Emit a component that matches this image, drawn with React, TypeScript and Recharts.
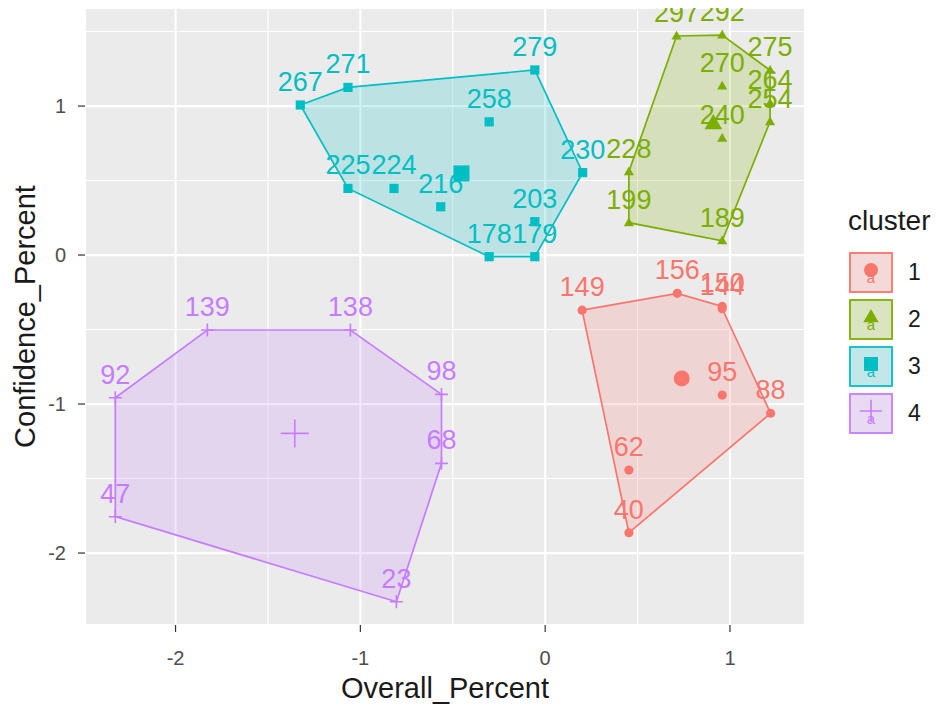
import React from 'react';
import { ScatterChart, Scatter, XAxis, YAxis, CartesianGrid } from 'recharts';

const FONT = '"Liberation Sans", Arial, sans-serif';

const clusterNames = ['1', '2', '3', '4'];
const clusterColors = ['#F8766D', '#7CAE00', '#00BFC4', '#C77CFF'];
const clusterShapes = ['circle', 'triangle', 'square', 'plus'];

// cluster 1
const ids1 = ['149', '156', '150', '144', '95', '88', '62', '40'];
const x1 = [0.2, 0.715, 0.958, 0.958, 0.958, 1.22, 0.453, 0.453];
const y1 = [-0.37, -0.257, -0.345, -0.36, -0.94, -1.062, -1.443, -1.864];
const hull1 = ['149', '156', '150', '144', '88', '40'];

// cluster 2
const ids2 = ['297', '292', '275', '264', '254', '270', '240', '228', '199', '189'];
const x2 = [0.711, 0.958, 1.217, 1.217, 1.217, 0.958, 0.958, 0.453, 0.453, 0.958];
const y2 = [1.47, 1.476, 1.24, 1.018, 0.895, 1.134, 0.783, 0.559, 0.217, 0.096];
const hull2 = ['297', '292', '275', '264', '254', '189', '199', '228'];

// cluster 3
const ids3 = ['267', '271', '279', '258', '230', '225', '224', '216', '203', '178', '179'];
const x3 = [-1.325, -1.067, -0.056, -0.303, 0.203, -1.067, -0.818, -0.565, -0.056, -0.303, -0.056];
const y3 = [1.007, 1.125, 1.242, 0.894, 0.553, 0.447, 0.447, 0.324, 0.224, -0.011, -0.011];
const hull3 = ['267', '271', '279', '230', '179', '178', '225'];

// cluster 4
const ids4 = ['139', '138', '92', '98', '68', '47', '23'];
const x4 = [-1.828, -1.054, -2.326, -0.561, -0.561, -2.326, -0.805];
const y4 = [-0.503, -0.503, -0.958, -0.935, -1.398, -1.756, -2.327];
const hull4 = ['139', '138', '98', '68', '23', '47', '92'];

const centroidX = [0.739, 0.91, -0.453, -1.355];
const centroidY = [-0.828, 0.885, 0.548, -1.197];

const xTicks = [-2, -1, 0, 1];
const yTicks = [-2, -1, 0, 1];
const xMinorTicks = [-1.5, -0.5, 0.5];
const yMinorTicks = [-1.5, -0.5, 0.5, 1.5];
const xDomain = [-2.49, 1.406];
const yDomain = [-2.483, 1.658];

const allIds = [ids1, ids2, ids3, ids4];
const allX = [x1, x2, x3, x4];
const allY = [y1, y2, y3, y4];
const allHulls = [hull1, hull2, hull3, hull4];

const points = allIds.map((ids, c) => ids.map((id, i) => ({ id, x: allX[c][i], y: allY[c][i] })));
const hulls = allHulls.map((h, c) => h.map(id => points[c].find(p => p.id === id)!));
const centroids = centroidX.map((x, c) => [{ x, y: centroidY[c] }]);

function marker(kind: string, cx: number, cy: number, r: number, color: string) {
  if (kind === 'circle') return <circle cx={cx} cy={cy} r={r} fill={color} />;
  if (kind === 'square') return <rect x={cx - r} y={cy - r} width={2 * r} height={2 * r} fill={color} />;
  if (kind === 'triangle') {
    const d = `M${cx},${cy - r * 1.15} L${cx + r * 1.1},${cy + r * 0.75} L${cx - r * 1.1},${cy + r * 0.75} Z`;
    return <path d={d} fill={color} />;
  }
  return (
    <path
      d={`M${cx - r * 1.4},${cy} H${cx + r * 1.4} M${cx},${cy - r * 1.4} V${cy + r * 1.4}`}
      stroke={color}
      strokeWidth={1.6}
      fill="none"
    />
  );
}

const pointShape = (c: number) => (props: any) => {
  const { cx, cy, payload } = props;
  return (
    <g>
      {marker(clusterShapes[c], cx, cy, 4.6, clusterColors[c])}
      <text x={cx} y={cy - 14} textAnchor="middle" fontSize={27} fontFamily={FONT} fill={clusterColors[c]}>
        {payload.id}
      </text>
    </g>
  );
};

const centroidShape = (c: number) => (props: any) => {
  const { cx, cy } = props;
  return marker(clusterShapes[c], cx, cy, clusterShapes[c] === 'plus' ? 10 : 8, clusterColors[c]);
};

const hullLine = (c: number) => (props: any) => {
  const pts = props.points || [];
  const d = pts.map((p: any, i: number) => `${i === 0 ? 'M' : 'L'}${p.x},${p.y}`).join(' ') + ' Z';
  return (
    <path
      d={d}
      fill={clusterColors[c]}
      fillOpacity={0.2}
      stroke={clusterColors[c]}
      strokeWidth={1.7}
    />
  );
};

const XTitle = (props: any) => {
  const vb = props.viewBox;
  return (
    <text x={vb.x + vb.width / 2} y={vb.y + 73} textAnchor="middle" fontSize={29} fontFamily={FONT} fill="#1a1a1a">
      Overall_Percent
    </text>
  );
};

const YTitle = (props: any) => {
  const vb = props.viewBox;
  const cy = vb.y + vb.height / 2;
  return (
    <text x={35} y={cy} transform={`rotate(-90, 35, ${cy})`} textAnchor="middle" fontSize={29} fontFamily={FONT} fill="#1a1a1a">
      Confidence_Percent
    </text>
  );
};

const LegendBox = () => (
  <svg width={938} height={708} style={{ position: 'absolute', left: 0, top: 0, pointerEvents: 'none' }}>
    <text x={848} y={230} fontSize={28} fontFamily={FONT} fill="#1a1a1a">cluster</text>
    {clusterNames.map((name, c) => {
      const top = 252 + c * 47;
      const cx = 871;
      const cy = top + 20;
      return (
        <g key={name}>
          <rect x={849} y={top} width={44} height={41} fill="#F2F2F2" />
          <rect x={850} y={top + 1} width={42} height={39} fill={clusterColors[c]} fillOpacity={0.2} stroke={clusterColors[c]} strokeWidth={1.8} />
          {marker(clusterShapes[c], cx, cy - 2, clusterShapes[c] === 'plus' ? 8 : 7, clusterColors[c])}
          <text x={cx} y={cy + 11} textAnchor="middle" fontSize={15} fontFamily={FONT} fill={clusterColors[c]}>a</text>
          <text x={908} y={cy + 8} fontSize={23} fontFamily={FONT} fill="#1a1a1a">{name}</text>
        </g>
      );
    })}
  </svg>
);

export default function App() {
  return (
    <div style={{ position: 'absolute', left: 0, top: 0, width: 938, height: 708, background: '#fff', fontFamily: FONT }}>
      <ScatterChart width={938} height={708} margin={{ top: 8, right: 133, bottom: 0, left: 0 }}>
        <XAxis
          xAxisId="minor"
          type="number"
          dataKey="x"
          domain={xDomain}
          ticks={xMinorTicks}
          allowDataOverflow
          hide
        />
        <YAxis
          yAxisId="minor"
          type="number"
          dataKey="y"
          domain={yDomain}
          ticks={yMinorTicks}
          allowDataOverflow
          hide
        />
        <XAxis
          type="number"
          dataKey="x"
          domain={xDomain}
          ticks={xTicks}
          allowDataOverflow
          height={83}
          tickSize={7}
          tickMargin={19}
          axisLine={false}
          tickLine={{ stroke: '#333333', strokeWidth: 1.2 }}
          tick={{ fill: '#4D4D4D', fontSize: 20, fontFamily: FONT }}
          label={{ content: XTitle }}
        />
        <YAxis
          type="number"
          dataKey="y"
          domain={yDomain}
          ticks={yTicks}
          allowDataOverflow
          width={85}
          tickSize={7}
          tickMargin={12}
          axisLine={false}
          tickLine={{ stroke: '#333333', strokeWidth: 1.2 }}
          tick={{ fill: '#4D4D4D', fontSize: 20, fontFamily: FONT }}
          label={{ content: YTitle }}
        />
        <CartesianGrid xAxisId="minor" yAxisId="minor" fill="#EBEBEB" stroke="#FFFFFF" strokeWidth={1.1} />
        <CartesianGrid stroke="#FFFFFF" strokeWidth={2.2} />
        {hulls.map((h, c) => (
          <Scatter
            key={`hull${c}`}
            data={h}
            shape={() => <g />}
            line={hullLine(c)}
            legendType="none"
            isAnimationActive={false}
          />
        ))}
        {points.map((p, c) => (
          <Scatter
            key={`pts${c}`}
            data={p}
            shape={pointShape(c)}
            isAnimationActive={false}
          />
        ))}
        {centroids.map((p, c) => (
          <Scatter
            key={`cen${c}`}
            data={p}
            shape={centroidShape(c)}
            isAnimationActive={false}
          />
        ))}
      </ScatterChart>
      <LegendBox />
    </div>
  );
}
